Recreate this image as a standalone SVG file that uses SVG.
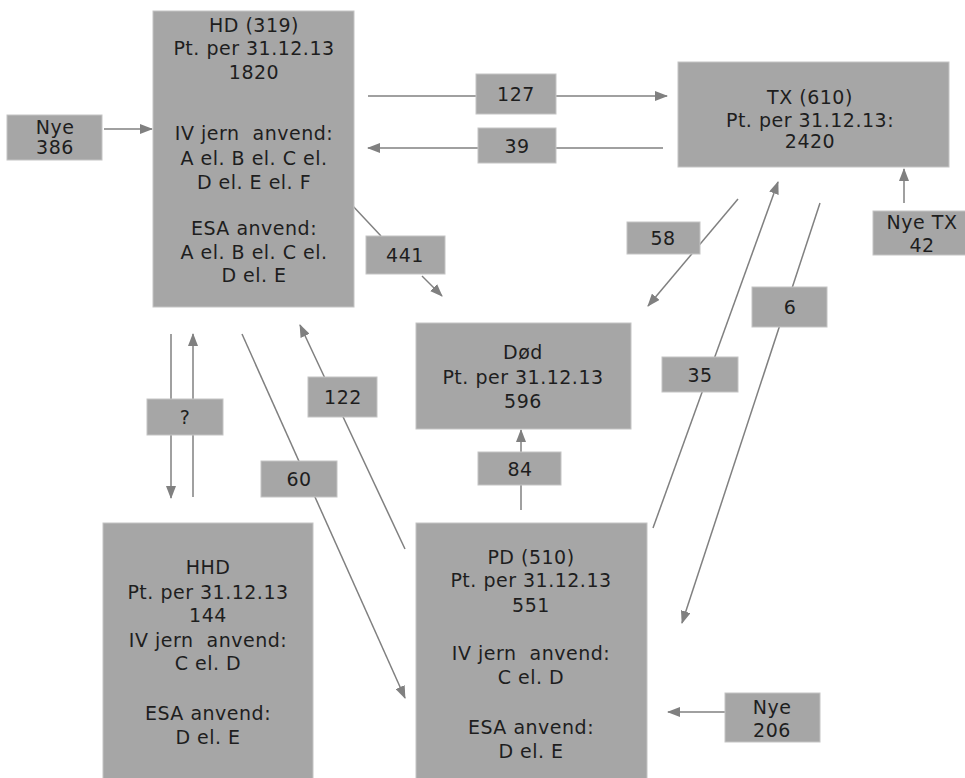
<svg xmlns="http://www.w3.org/2000/svg" width="965" height="778" viewBox="0 0 965 778">
<style>
.box{fill:#a6a6a6;stroke:#c4c4c4;stroke-width:1}
.t{font-family:"DejaVu Sans","Verdana",sans-serif;font-size:19px;letter-spacing:0.5px;fill:#1e1e1e;text-anchor:middle}
.c{stroke:#808080;stroke-width:1.5;fill:none}
</style>
<defs>
<marker id="ah" markerUnits="userSpaceOnUse" markerWidth="13" markerHeight="10" refX="12" refY="5" orient="auto">
<path d="M0,0 L13,5 L0,10 z" fill="#808080"/>
</marker>
</defs>
<rect width="965" height="778" fill="#ffffff"/>

<g id="connectors">
<line class="c" x1="104" y1="129" x2="152" y2="129" marker-end="url(#ah)"/>
<line class="c" x1="368" y1="96" x2="476" y2="96"/>
<line class="c" x1="556" y1="96" x2="667" y2="96" marker-end="url(#ah)"/>
<line class="c" x1="663" y1="148" x2="556" y2="148"/>
<line class="c" x1="478" y1="148" x2="368" y2="148" marker-end="url(#ah)"/>
<line class="c" x1="904" y1="203" x2="904" y2="169" marker-end="url(#ah)"/>
<line class="c" x1="351" y1="204" x2="381" y2="236"/>
<line class="c" x1="422" y1="276" x2="442" y2="296" marker-end="url(#ah)"/>
<line class="c" x1="738" y1="199" x2="648" y2="306" marker-end="url(#ah)"/>
<line class="c" x1="653" y1="528" x2="778" y2="182" marker-end="url(#ah)"/>
<line class="c" x1="820" y1="203" x2="682" y2="623" marker-end="url(#ah)"/>
<line class="c" x1="521" y1="510" x2="521" y2="430" marker-end="url(#ah)"/>
<line class="c" x1="405" y1="549" x2="300" y2="325" marker-end="url(#ah)"/>
<line class="c" x1="242" y1="334" x2="405" y2="698" marker-end="url(#ah)"/>
<line class="c" x1="171" y1="334" x2="171" y2="498" marker-end="url(#ah)"/>
<line class="c" x1="193" y1="497" x2="193" y2="334" marker-end="url(#ah)"/>
<line class="c" x1="725" y1="712" x2="668" y2="712" marker-end="url(#ah)"/>
</g>

<g id="labels">
<g id="l127"><rect class="box" x="476" y="74" width="80" height="40"/><text class="t" x="516" y="101">127</text></g>
<g id="l39"><rect class="box" x="478" y="128" width="78" height="35"/><text class="t" x="517" y="153">39</text></g>
<g id="l441"><rect class="box" x="366" y="236" width="79" height="38"/><text class="t" x="405" y="262">441</text></g>
<g id="l58"><rect class="box" x="627" y="222" width="73" height="32"/><text class="t" x="663" y="245">58</text></g>
<g id="l35"><rect class="box" x="662" y="357" width="76" height="35"/><text class="t" x="700" y="382">35</text></g>
<g id="l6"><rect class="box" x="752" y="287" width="75" height="40"/><text class="t" x="790" y="314">6</text></g>
<g id="l84"><rect class="box" x="478" y="452" width="83" height="33"/><text class="t" x="520" y="476">84</text></g>
<g id="l122"><rect class="box" x="308" y="377" width="69" height="40"/><text class="t" x="343" y="404">122</text></g>
<g id="l60"><rect class="box" x="261" y="461" width="76" height="36"/><text class="t" x="299" y="486">60</text></g>
<g id="lq"><rect class="box" x="147" y="399" width="76" height="36"/><text class="t" x="185" y="424">?</text></g>
</g>

<g id="nye386"><rect class="box" x="7" y="115" width="95" height="45"/>
<text class="t" x="55" y="134">Nye</text><text class="t" x="55" y="154">386</text></g>

<g id="hd"><rect class="box" x="153" y="11" width="201" height="296"/>
<text class="t" x="254" y="32">HD (319)</text>
<text class="t" x="254" y="55">Pt. per 31.12.13</text>
<text class="t" x="254" y="79">1820</text>
<text class="t" x="254" y="140">IV jern&#160; anvend:</text>
<text class="t" x="254" y="165">A el. B el. C el.</text>
<text class="t" x="254" y="189">D el. E el. F</text>
<text class="t" x="254" y="235">ESA anvend:</text>
<text class="t" x="254" y="259">A el. B el. C el.</text>
<text class="t" x="254" y="282">D el. E</text>
</g>

<g id="tx"><rect class="box" x="678" y="62" width="271" height="105"/>
<text class="t" x="810" y="104">TX (610)</text>
<text class="t" x="810" y="127">Pt. per 31.12.13:</text>
<text class="t" x="810" y="148">2420</text>
</g>

<g id="nyetx"><rect class="box" x="873" y="211" width="100" height="44"/>
<text class="t" x="922" y="229">Nye TX</text><text class="t" x="922" y="252">42</text></g>

<g id="dod"><rect class="box" x="416" y="323" width="215" height="106"/>
<text class="t" x="523" y="359">Død</text>
<text class="t" x="523" y="384">Pt. per 31.12.13</text>
<text class="t" x="523" y="408">596</text>
</g>

<g id="hhd"><rect class="box" x="103" y="523" width="210" height="262"/>
<text class="t" x="208" y="574">HHD</text>
<text class="t" x="208" y="599">Pt. per 31.12.13</text>
<text class="t" x="208" y="622">144</text>
<text class="t" x="208" y="647">IV jern&#160; anvend:</text>
<text class="t" x="208" y="670">C el. D</text>
<text class="t" x="208" y="720">ESA anvend:</text>
<text class="t" x="208" y="744">D el. E</text>
</g>

<g id="pd"><rect class="box" x="416" y="523" width="231" height="262"/>
<text class="t" x="531" y="564">PD (510)</text>
<text class="t" x="531" y="587">Pt. per 31.12.13</text>
<text class="t" x="531" y="612">551</text>
<text class="t" x="531" y="660">IV jern&#160; anvend:</text>
<text class="t" x="531" y="684">C el. D</text>
<text class="t" x="531" y="734">ESA anvend:</text>
<text class="t" x="531" y="758">D el. E</text>
</g>

<g id="nye206"><rect class="box" x="725" y="693" width="95" height="49"/>
<text class="t" x="772" y="714">Nye</text><text class="t" x="772" y="737">206</text></g>
</svg>
